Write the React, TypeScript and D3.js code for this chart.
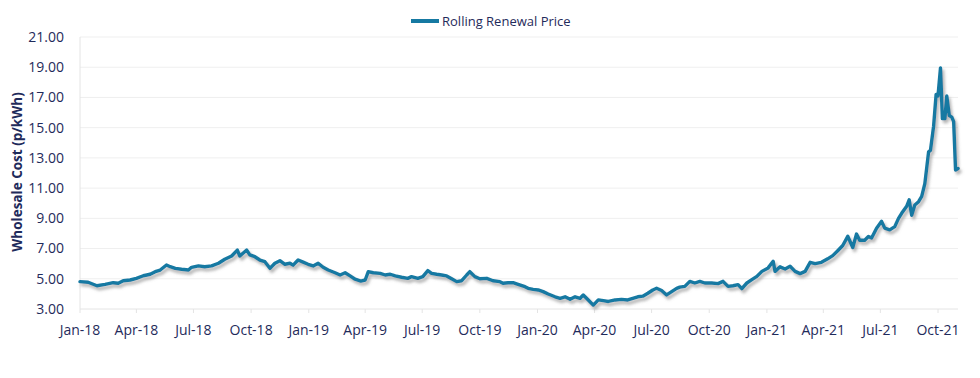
import React from "react";
import * as d3 from "d3";

const seriesName = "Rolling Renewal Price";
const yTicks = [3, 5, 7, 9, 11, 13, 15, 17, 19, 21];
const dates = [
  "2018-01-01","2018-01-14","2018-01-28","2018-02-10","2018-02-23","2018-03-03","2018-03-11","2018-03-22",
  "2018-04-01","2018-04-12","2018-04-23","2018-05-01","2018-05-09","2018-05-19","2018-05-25","2018-06-02",
  "2018-06-12","2018-06-23","2018-06-28","2018-07-09","2018-07-19","2018-07-30","2018-08-10","2018-08-20",
  "2018-08-31","2018-09-09","2018-09-13","2018-09-24","2018-09-29","2018-10-07","2018-10-15","2018-10-23",
  "2018-10-31","2018-11-08","2018-11-16","2018-11-24","2018-12-02","2018-12-07","2018-12-15","2018-12-23",
  "2018-12-31","2019-01-08","2019-01-16","2019-01-24","2019-02-01","2019-02-12","2019-02-20","2019-02-28",
  "2019-03-08","2019-03-16","2019-03-25","2019-04-01","2019-04-06","2019-04-14","2019-04-25","2019-05-03",
  "2019-05-11","2019-05-19","2019-05-29","2019-06-08","2019-06-14","2019-06-24","2019-07-02","2019-07-10",
  "2019-07-16","2019-07-24","2019-08-01","2019-08-09","2019-08-17","2019-08-25","2019-09-02","2019-09-10",
  "2019-09-15","2019-09-23","2019-10-01","2019-10-12","2019-10-22","2019-11-02","2019-11-07","2019-11-15",
  "2019-11-23","2019-12-01","2019-12-12","2019-12-17","2019-12-25","2020-01-02","2020-01-10","2020-01-18",
  "2020-01-29","2020-02-06","2020-02-14","2020-02-22","2020-03-01","2020-03-09","2020-03-14","2020-03-22",
  "2020-03-30","2020-04-07","2020-04-15","2020-04-23","2020-05-04","2020-05-14","2020-05-24","2020-06-01",
  "2020-06-09","2020-06-17","2020-06-25","2020-07-03","2020-07-09","2020-07-17","2020-07-25","2020-08-02",
  "2020-08-10","2020-08-15","2020-08-23","2020-08-31","2020-09-08","2020-09-16","2020-09-24","2020-10-05",
  "2020-10-15","2020-10-23","2020-10-31","2020-11-08","2020-11-16","2020-11-22","2020-11-30","2020-12-08",
  "2020-12-16","2020-12-24","2021-01-03","2021-01-11","2021-01-14","2021-01-22","2021-01-30","2021-02-07",
  "2021-02-15","2021-02-23","2021-03-03","2021-03-11","2021-03-19","2021-03-29","2021-04-08","2021-04-16",
  "2021-04-24","2021-05-02","2021-05-10","2021-05-18","2021-05-24","2021-05-29","2021-06-06","2021-06-12",
  "2021-06-17","2021-06-25","2021-07-03","2021-07-08","2021-07-16","2021-07-24","2021-07-30","2021-08-04",
  "2021-08-12","2021-08-16","2021-08-20","2021-08-25","2021-08-31","2021-09-05","2021-09-10","2021-09-16",
  "2021-09-19","2021-09-24","2021-09-28","2021-10-01","2021-10-05","2021-10-08","2021-10-12","2021-10-15",
  "2021-10-19","2021-10-23","2021-10-26","2021-10-29","2021-11-02"
];
const prices = [
  4.81,4.77,4.54,4.63,4.74,4.70,4.87,4.92,
  5.03,5.20,5.30,5.47,5.58,5.91,5.80,5.69,
  5.63,5.58,5.76,5.85,5.80,5.85,6.03,6.29,
  6.51,6.90,6.51,6.90,6.58,6.46,6.24,6.13,
  5.69,6.03,6.20,5.96,6.03,5.90,6.24,6.10,
  5.96,5.85,6.03,5.76,5.58,5.40,5.25,5.40,
  5.19,4.97,4.85,4.92,5.47,5.40,5.36,5.25,
  5.30,5.19,5.10,5.03,5.14,5.03,5.14,5.54,
  5.36,5.30,5.25,5.19,5.00,4.81,4.87,5.25,
  5.47,5.14,5.00,5.03,4.87,4.81,4.70,4.74,
  4.74,4.63,4.48,4.37,4.30,4.26,4.15,3.99,
  3.81,3.71,3.81,3.64,3.81,3.71,3.93,3.60,
  3.26,3.60,3.55,3.50,3.60,3.64,3.60,3.71,
  3.81,3.85,4.04,4.26,4.37,4.22,3.93,4.15,
  4.37,4.45,4.50,4.83,4.72,4.83,4.72,4.72,
  4.68,4.83,4.50,4.54,4.61,4.35,4.72,4.94,
  5.16,5.49,5.72,6.16,5.49,5.79,5.65,5.83,
  5.49,5.34,5.49,6.09,6.00,6.09,6.32,6.53,
  6.86,7.20,7.81,7.07,7.96,7.55,7.55,7.80,
  7.70,8.35,8.80,8.35,8.24,8.45,9.00,9.33,
  9.80,10.23,9.20,9.88,10.10,10.45,11.30,13.40,
  13.50,15.10,17.20,17.10,18.95,15.60,15.60,17.10,
  15.80,15.70,15.40,12.20,12.30
];

const W = 980, H = 378;
const textColor = "#1F2B5B";
const lineColor = "#1679A2";
const font = "'Open Sans', sans-serif";

export default function App() {
  const parse = d3.timeParse("%Y-%m-%d");
  const data = dates.map((d, i) => ({ date: parse(d) as Date, value: prices[i] }));
  const x = d3.scaleTime().domain([new Date(2018, 0, 1), new Date(2021, 9, 1)]).range([80, 938]);
  const y = d3.scaleLinear().domain([3, 21]).range([309, 37]);
  const xTicks = d3.timeMonth.every(3)!.range(new Date(2018, 0, 1), new Date(2021, 9, 2));
  const fmt = d3.timeFormat("%b-%y");
  const line = d3.line<{ date: Date; value: number }>().x(d => x(d.date)).y(d => y(d.value));
  const x0 = 80, x1 = 958;
  return (
    <svg width={W} height={H} style={{ position: "absolute", left: 0, top: 0, background: "#fff" }}>
      <defs>
        <filter id="sh" x="-5%" y="-5%" width="110%" height="120%">
          <feDropShadow dx="2" dy="3" stdDeviation="1.4" floodColor="#777" floodOpacity="0.55" />
        </filter>
      </defs>
      <rect width={W} height={H} fill="#fff" />
      {yTicks.map(t => (
        <g key={t}>
          <line x1={x0} x2={x1} y1={y(t)} y2={y(t)} stroke={t === 3 ? "#E4E4E4" : "#EFEFEF"} strokeWidth={1} />
          <text x={64} y={y(t)} dy="0.35em" textAnchor="end" fontFamily={font} fontSize={14} fill={textColor}>
            {t.toFixed(2)}
          </text>
        </g>
      ))}
      <line x1={x0} x2={x0} y1={y(21)} y2={y(3)} stroke="#E4E4E4" />
      {xTicks.map((t, i) => (
        <g key={i}>
          <line x1={x(t)} x2={x(t)} y1={y(3)} y2={y(3) + 4} stroke="#E4E4E4" />
          <text x={x(t)} y={335} textAnchor="middle" fontFamily={font} fontSize={14} fill={textColor}>
            {fmt(t)}
          </text>
        </g>
      ))}
      <text
        transform={`translate(22,172) rotate(-90)`}
        textAnchor="middle"
        fontFamily={font}
        fontWeight="bold"
        fontSize={13.5}
        fill={textColor}
      >
        Wholesale Cost (p/kWh)
      </text>
      <path
        d={line(data) || ""}
        fill="none"
        stroke={lineColor}
        strokeWidth={3.4}
        strokeLinejoin="round"
        strokeLinecap="round"
        filter="url(#sh)"
      />
      <line x1={411} x2={439} y1={21} y2={21} stroke={lineColor} strokeWidth={4} />
      <text x={442} y={21} dy="0.35em" fontFamily={font} fontSize={13} fill={textColor}>
        {seriesName}
      </text>
    </svg>
  );
}
